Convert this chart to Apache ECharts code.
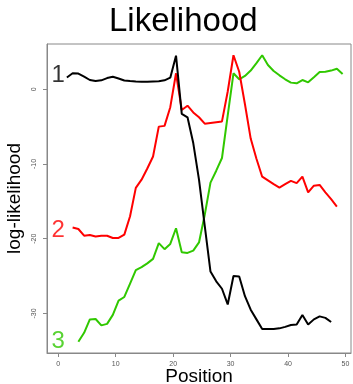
<!DOCTYPE html>
<html>
<head>
<meta charset="utf-8">
<script src="https://cdn.jsdelivr.net/npm/echarts@6/dist/echarts.min.js"></script>
<style>
  html, body { margin: 0; padding: 0; background: #fff; }
  #main { width: 353px; height: 384px; }
</style>
</head>
<body>
<div id="main"></div>
<script>
// positions along the sequence (points sit at half steps)
var positions = [1.5, 2.5, 3.5, 4.5, 5.5, 6.5, 7.5, 8.5, 9.5, 10.5,
  11.5, 12.5, 13.5, 14.5, 15.5, 16.5, 17.5, 18.5, 19.5, 20.5,
  21.5, 22.5, 23.5, 24.5, 25.5, 26.5, 27.5, 28.5, 29.5, 30.5,
  31.5, 32.5, 33.5, 34.5, 35.5, 36.5, 37.5, 38.5, 39.5, 40.5,
  41.5, 42.5, 43.5, 44.5, 45.5, 46.5, 47.5, 48.5, 49.5];

var model1 = [1.58, 2.14, 2.1, 1.7, 1.24, 1.1, 1.2, 1.5, 1.68, 1.45,
  1.18, 1.1, 1.04, 1.0, 1.0, 1.04, 1.07, 1.2, 1.55, 4.5,
  -3.3, -3.75, -7.2, -12.1, -18.3, -24.4, -25.7, -26.7, -28.8, -25.0,
  -25.05, -27.7, -29.5, -30.8, -32.1, -32.1, -32.1, -32.0, -31.8, -31.55,
  -31.5, -30.2, -31.5, -30.8, -30.4, -30.6, -31.15, null, null];

var model2 = [null, -18.5, -18.7, -19.6, -19.5, -19.7, -19.6, -19.6, -19.9, -19.9,
  -19.45, -17.0, -13.2, -12.1, -10.6, -9.0, -5.0, -4.9, -2.4, 2.14,
  -2.77, -2.2, -3.1, -3.75, -4.6, -4.5, -4.4, -4.3, -0.3, 4.55,
  2.35, -2.0, -6.6, -9.3, -11.7, -12.2, -12.7, -13.15, -12.7, -12.26,
  -12.57, -11.7, -13.8, -12.9, -12.8, -13.8, -14.7, -15.7, null];

var model3 = [null, null, -33.8, -32.6, -30.8, -30.75, -31.6, -31.4, -30.2, -28.3,
  -27.8, -26.0, -24.2, -23.8, -23.3, -22.7, -20.6, -21.4, -20.7, -18.6,
  -21.8, -21.9, -21.6, -20.5, -16.8, -12.5, -10.9, -9.2, -3.5, 2.14,
  1.34, 1.78, 2.5, 3.5, 4.55, 3.25, 2.45, 1.87, 1.34, 0.89,
  0.8, 1.24, 0.93, 1.6, 2.3, 2.35, 2.5, 2.75, 2.05];

var tagText = ['1', '2', '3'];
var tagX = [0, 0, 0];
var tagY = [1.9, -18.9, -33.8];

var xTicks = [0, 10, 20, 30, 40, 50];
var yTicks = [-30, -20, -10, 0];

var colors = ['#000000', '#ff0000', '#30c800'];
var font = 'Liberation Sans';

function pairs(vals) {
    var out = [];
    for (var i = 0; i < positions.length; i++) {
        if (vals[i] !== null) out.push([positions[i], vals[i]]);
    }
    return out;
}

var tags = [];
for (var i = 0; i < tagText.length; i++) {
    tags.push({
        value: [tagX[i], tagY[i]],
        label: {color: colors[i]},
        name: tagText[i]
    });
}

var myChart = echarts.init(document.getElementById('main'));

var lineSeries = [model1, model2, model3].map(function (vals, k) {
    return {
        type: 'line',
        data: pairs(vals),
        symbol: 'none',
        lineStyle: {color: colors[k], width: 2},
        z: 3 - k
    };
});

var option = {
    animation: false,
    title: {
        text: 'Likelihood',
        left: 104,
        top: 0,
        textStyle: {fontFamily: font, fontSize: 33, fontWeight: 'normal', color: '#000'}
    },
    grid: {
        left: 47, top: 44, width: 304, height: 309,
        outerBoundsMode: 'none',
        containLabel: false,
        show: true, borderColor: '#888', borderWidth: 1
    },
    xAxis: {
        type: 'value',
        min: -1.96, max: 50.96,
        name: 'Position',
        nameLocation: 'middle',
        nameGap: 14,
        nameMoveOverlap: false,
        nameTextStyle: {fontFamily: font, fontSize: 19, color: '#000'},
        splitLine: {show: false},
        axisLine: {show: true, onZero: false, lineStyle: {color: '#888'}},
        axisTick: {show: true, customValues: xTicks, length: 4, lineStyle: {color: '#888'}},
        axisLabel: {customValues: xTicks, fontFamily: font, fontSize: 7, color: '#555', margin: 8}
    },
    yAxis: {
        type: 'value',
        min: -35.3, max: 6.06,
        name: 'log-likelihood',
        nameLocation: 'middle',
        nameGap: 23,
        nameMoveOverlap: false,
        nameTextStyle: {fontFamily: font, fontSize: 19, color: '#000'},
        splitLine: {show: false},
        axisLine: {show: true, onZero: false, lineStyle: {color: '#888'}},
        axisTick: {show: true, customValues: yTicks, length: 4, lineStyle: {color: '#888'}},
        axisLabel: {customValues: yTicks, rotate: 90, fontFamily: font, fontSize: 7, color: '#555', margin: 9}
    },
    series: lineSeries.concat([{
        type: 'scatter',
        data: tags,
        symbolSize: 0,
        z: 5,
        label: {
            show: true,
            position: 'inside',
            formatter: function (p) { return p.name; },
            fontFamily: font,
            fontSize: 24
        }
    }])
};

myChart.setOption(option);
</script>
</body>
</html>
